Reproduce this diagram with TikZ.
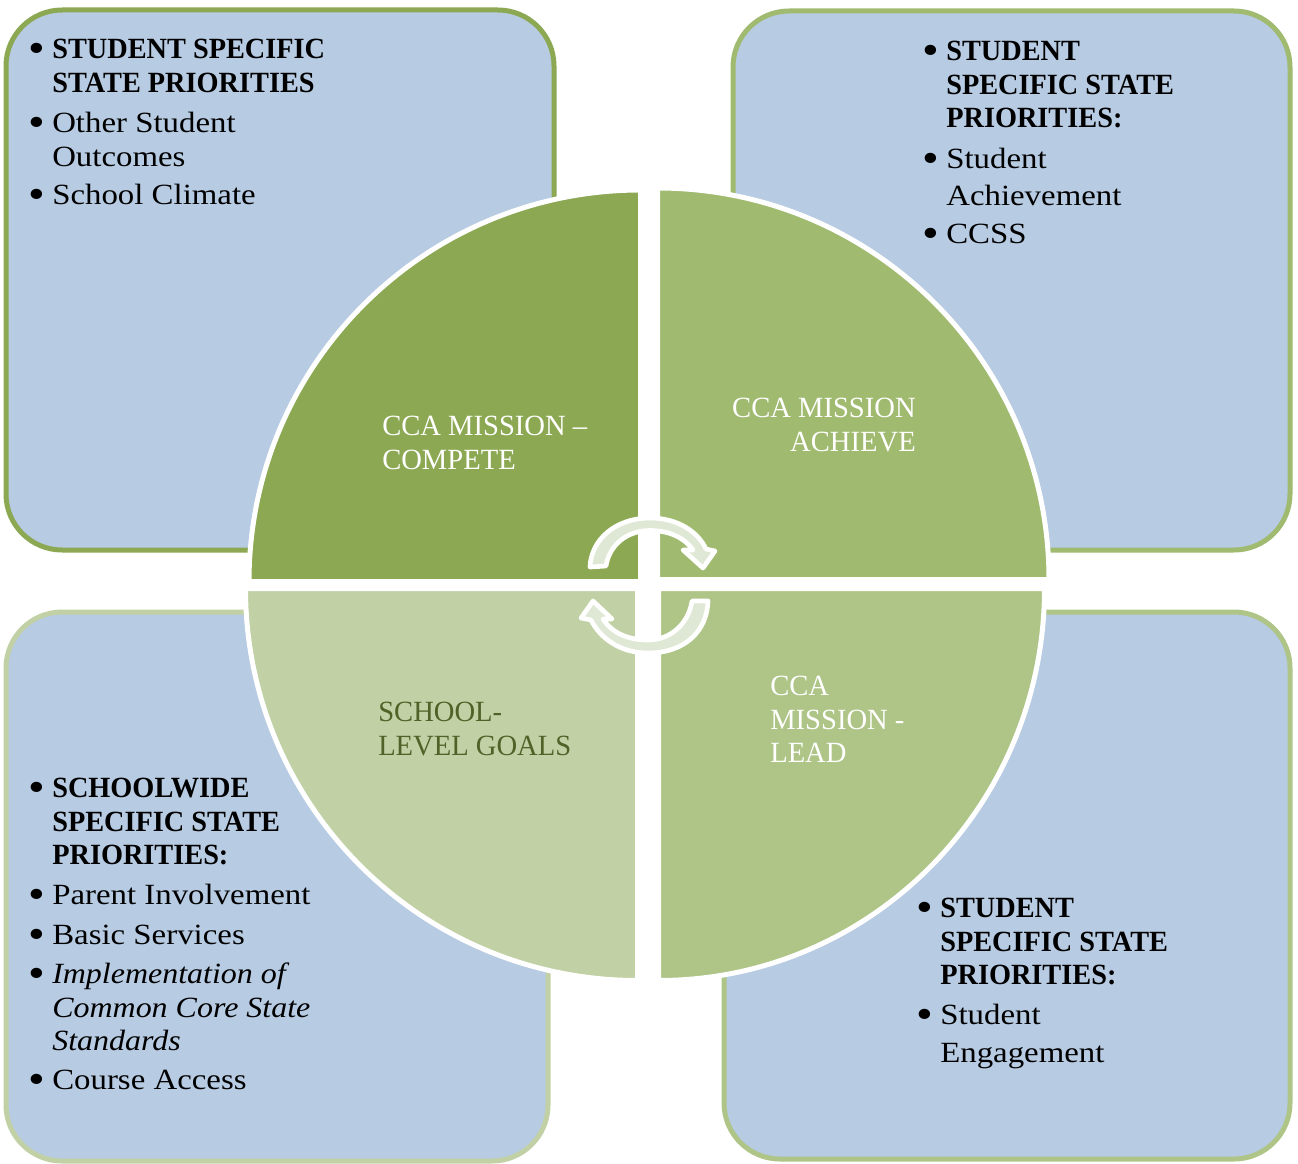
\documentclass[tikz,border=0pt]{standalone}
\usepackage{fontspec}
\setmainfont[FakeStretch=1.12,BoldFeatures={FakeStretch=0.965},ItalicFeatures={FakeStretch=1.09}]{Liberation Serif}
\newfontfamily\capsfont[FakeStretch=0.975]{Liberation Serif}
\definecolor{boxblue}{HTML}{B7CBE3}
\definecolor{greenA}{HTML}{8CA853}
\definecolor{greenB}{HTML}{A0BA70}
\definecolor{greenC}{HTML}{AEC587}
\definecolor{greenD}{HTML}{C1D1A5}
\definecolor{arrowfill}{HTML}{DFE8D4}
\definecolor{darkgreen}{HTML}{4F6228}
\newcommand{\bul}{\rule{0pt}{16pt}\llap{\raisebox{-3pt}{\fontsize{32}{32}\selectfont\textbullet}\hspace{5.5pt}}}
\newcommand{\txtsize}{\fontsize{22}{25.1}\selectfont}

\begin{document}
\begin{tikzpicture}
  [x=0.75pt,y=-0.75pt,
   infobox/.style={fill=boxblue,line width=3.75pt,rounded corners=42pt},
   quadrant/.style={draw=white,line width=3.75pt},
   turnarrow/.style={fill=arrowfill,draw=white,line width=3.5pt,line join=round},
   itemlist/.style={anchor=north west,inner sep=0pt,align=left,font=\txtsize,text=black},
   quadlabel/.style={anchor=north west,inner sep=0pt,align=left,font=\txtsize\capsfont,text=white}]

  \useasboundingbox (0,0) rectangle (1298,1163);

  % boxes
  \draw [infobox,draw=greenA] (6,10) rectangle (554,550);
  \draw [infobox,draw=greenB] (733,11) rectangle (1290,550);
  \draw [infobox,draw=greenD] (6,612) rectangle (548,1161);
  \draw [infobox,draw=greenC] (724,612) rectangle (1290,1159);

  % circle
  \filldraw [quadrant,fill=greenA] (640.5,581.5) -- (249,581.5) arc (180:270:391.5) -- cycle;
  \filldraw [quadrant,fill=greenB] (657.5,579.5) -- (657.5,188) arc (270:360:391.5) -- cycle;
  \filldraw [quadrant,fill=greenC] (658.5,588.5) -- (1044.5,588.5) arc [start angle=0,end angle=90,x radius=386,y radius=392] -- cycle;
  \filldraw [quadrant,fill=greenD] (637.5,588.5) -- (637.5,980.5) arc (90:180:392) -- cycle;

  % arrows
  \filldraw [turnarrow] (590,567) .. controls (591,540) and (615,518) .. (650,518)
    .. controls (678,518) and (698,532) .. (706,549) -- (715,551) -- (703,568) -- (683,550) -- (693,550)
    .. controls (684,537) and (668,530.5) .. (650,530.5) .. controls (626,530.5) and (609,546) .. (606,566) -- cycle;
  \filldraw [turnarrow] (708,601) .. controls (707,632) and (684,653) .. (648,653)
    .. controls (620,653) and (600,638) .. (591,620) -- (581,618) -- (593,601) -- (612,619) -- (603,619)
    .. controls (612,633) and (628,640) .. (648,640) .. controls (672,640) and (689,622) .. (692,601) -- cycle;

  % labels
  \node [quadlabel] (compete) at (382,416) {CCA MISSION –\\COMPETE};
  \node [quadlabel,align=right,anchor=north east] (achieve) at (916,398) {CCA MISSION\\ACHIEVE};
  \node [quadlabel] (lead) at (770,676) {CCA\\MISSION -\\LEAD};
  \node [quadlabel,text=darkgreen] (goals) at (378,702) {SCHOOL-\\LEVEL GOALS};

  % lists
  \node [itemlist] (listTL) at (52,37) {\bul\textbf{STUDENT SPECIFIC}\\\textbf{STATE PRIORITIES}\\[5.5pt]
    \bul Other Student\\Outcomes\\[3.5pt]\bul School Climate};
  \node [itemlist] (listTR) at (946,39) {\bul\textbf{STUDENT}\\\textbf{SPECIFIC STATE}\\\textbf{PRIORITIES:}\\[5.5pt]
    \bul Student\\[2.5pt]Achievement\\[4pt]\bul CCSS};
  \node [itemlist] (listBL) at (52,776) {\bul\textbf{SCHOOLWIDE}\\\textbf{SPECIFIC STATE}\\\textbf{PRIORITIES:}\\[5pt]
    \bul Parent Involvement\\[5pt]\bul Basic Services\\[4pt]
    \bul\textit{Implementation of}\\\textit{Common Core State}\\\textit{Standards}\\[4pt]\bul Course Access};
  \node [itemlist] (listBR) at (940,896) {\bul\textbf{STUDENT}\\\textbf{SPECIFIC STATE}\\\textbf{PRIORITIES:}\\[5pt]
    \bul Student\\[3pt]Engagement};
\end{tikzpicture}
\end{document}
